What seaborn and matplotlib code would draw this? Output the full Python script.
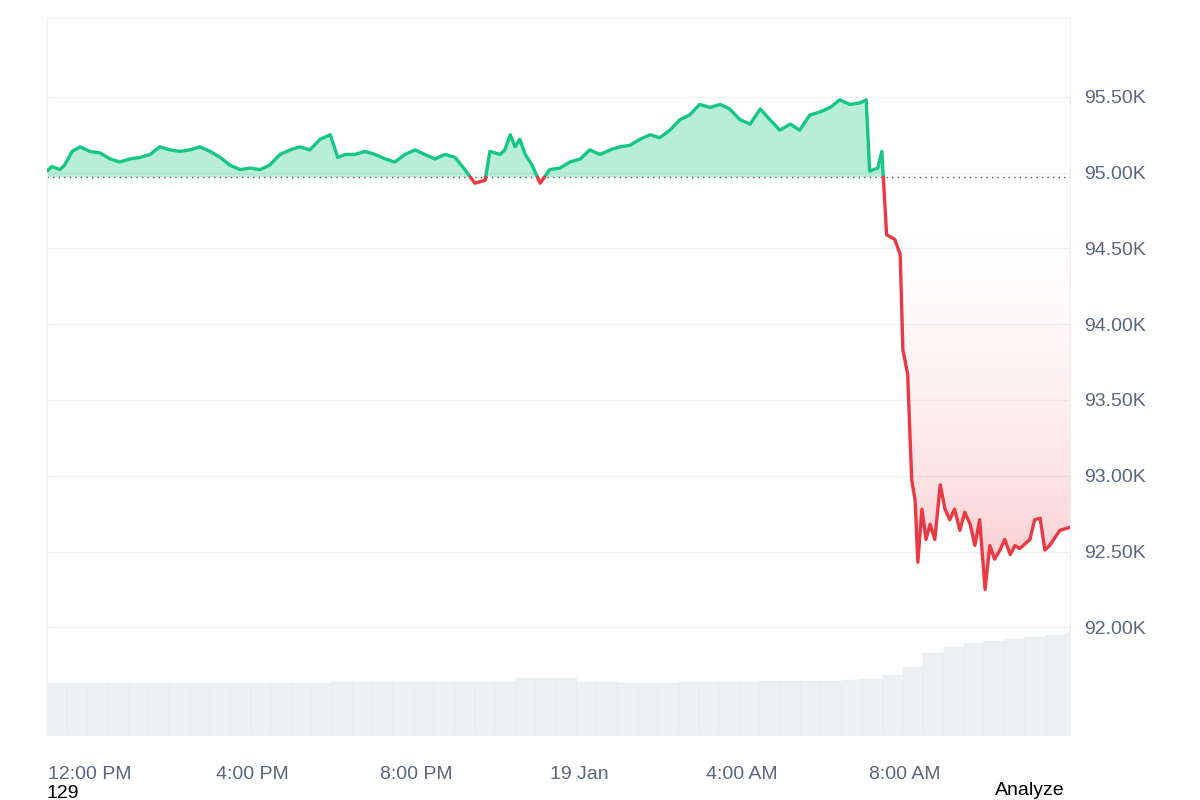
import numpy as np
import pandas as pd
import matplotlib
matplotlib.use("Agg")
import matplotlib.pyplot as plt
from matplotlib.path import Path
import seaborn as sns

# minutes since 10:57 AM, 18 Jan
minutes = [0, 7, 19, 26, 37, 49, 63, 78, 93, 107, 122, 137, 152, 166, 181, 196, 210, 225, 240, 255,
           269, 284, 299, 314, 328, 343, 358, 372, 387, 402, 417, 428, 439, 453, 468, 483, 498, 512, 527, 542,
           556, 571, 586, 601, 615, 630, 645, 652, 667, 674, 682, 689, 696, 704, 714, 726, 740, 755, 770, 785,
           799, 814, 829, 843, 858, 873, 888, 902, 917, 932, 946, 961, 976, 991, 1005, 1020, 1035, 1050, 1064, 1079,
           1094, 1108, 1123, 1138, 1153, 1167, 1182, 1197, 1206, 1211, 1223, 1229, 1236, 1248, 1256, 1260, 1267, 1273, 1278, 1282,
           1288, 1294, 1300, 1307, 1315, 1322, 1329, 1336, 1344, 1351, 1359, 1366, 1373, 1381, 1388, 1395, 1403, 1410, 1418, 1425,
           1432, 1447, 1454, 1462, 1469, 1476, 1491, 1506]
# price in thousands USD
price = [95.01, 95.04, 95.02, 95.05, 95.14, 95.17, 95.14, 95.13, 95.09, 95.07, 95.09, 95.10, 95.12, 95.17, 95.15, 95.14, 95.15, 95.17, 95.14, 95.10,
         95.05, 95.02, 95.03, 95.02, 95.05, 95.12, 95.15, 95.17, 95.15, 95.22, 95.25, 95.10, 95.12, 95.12, 95.14, 95.12, 95.09, 95.07, 95.12, 95.15,
         95.12, 95.09, 95.12, 95.10, 95.02, 94.93, 94.95, 95.14, 95.12, 95.15, 95.25, 95.17, 95.22, 95.12, 95.05, 94.93, 95.02, 95.03, 95.07, 95.09,
         95.15, 95.12, 95.15, 95.17, 95.18, 95.22, 95.25, 95.23, 95.28, 95.35, 95.38, 95.45, 95.43, 95.45, 95.42, 95.35, 95.32, 95.42, 95.35, 95.28,
         95.32, 95.28, 95.38, 95.40, 95.43, 95.48, 95.45, 95.46, 95.48, 95.01, 95.03, 95.14, 94.59, 94.56, 94.46, 93.83, 93.67, 92.97, 92.84, 92.43,
         92.78, 92.58, 92.68, 92.58, 92.94, 92.78, 92.71, 92.78, 92.64, 92.76, 92.68, 92.54, 92.71, 92.25, 92.54, 92.45, 92.51, 92.58, 92.48, 92.54,
         92.52, 92.58, 92.71, 92.72, 92.51, 92.54, 92.64, 92.66]
baseline = 94.97

vol_minutes = list(range(0, 1530, 30))
volume = [52] * 14 + [53] * 9 + [57] * 3 + [53, 53, 52, 52, 52, 53, 53, 53, 53, 54, 54, 54, 54, 55, 56] + \
         [60, 68, 82, 88, 92, 94, 96, 98, 100, 102]

tick_pos = [63, 303, 543, 783, 1023, 1263]
tick_labels = ["12:00 PM", "4:00 PM", "8:00 PM", "19 Jan", "4:00 AM", "8:00 AM"]
y_ticks = [92.0, 92.5, 93.0, 93.5, 94.0, 94.5, 95.0, 95.5]

GREEN = "#16c784"
RED = "#ea3943"
GRAY = "#58667e"

sns.set_style("white")
plt.rcParams["font.family"] = ["Liberation Sans", "DejaVu Sans"]

fig = plt.figure(figsize=(12, 8), dpi=100)
ax = fig.add_axes([47 / 1200, 65 / 800, 1023 / 1200, 717 / 800])
xmax = 1506

# volume on a twin axis
vax = ax.twinx()
vax.set_ylim(0, 717)
vax.bar(vol_minutes, volume, width=30, color="#edf0f3", align="edge",
        edgecolor="#e3e7ec", linewidth=0.3)
vax.set_yticks([])
vax.set_zorder(0)
ax.set_zorder(1)
ax.patch.set_visible(False)

# insert crossing points with baseline for colouring
xs, ys = [minutes[0]], [price[0]]
for i in range(1, len(price)):
    p0, p1 = price[i - 1], price[i]
    if (p0 - baseline) * (p1 - baseline) < 0:
        t0, t1 = minutes[i - 1], minutes[i]
        xs.append(t0 + (baseline - p0) / (p1 - p0) * (t1 - t0))
        ys.append(baseline)
    xs.append(minutes[i])
    ys.append(price[i])
xs = np.array(xs)
ys = np.array(ys)
above = np.where(ys >= baseline, ys, np.nan)
below = np.where(ys <= baseline, ys, np.nan)

ax.fill_between(xs, ys, baseline, where=ys >= baseline, interpolate=True,
                color=GREEN, alpha=0.3, linewidth=0)
poly = ax.fill_between(xs, ys, baseline, where=ys <= baseline, interpolate=True,
                       color="none", linewidth=0)
clip = Path.make_compound_path(*poly.get_paths())
grad = np.linspace(0, 1, 256).reshape(-1, 1)
cmap = matplotlib.colors.LinearSegmentedColormap.from_list(
    "r", [(1, 1, 1, 0), (0.92, 0.22, 0.26, 0.28)])
img = ax.imshow(grad, extent=[0, xmax, 92.2, baseline], aspect="auto",
                cmap=cmap, origin="upper", zorder=1)
img.set_clip_path(clip, transform=ax.transData)
ax.set_xlim(0, xmax)
ax.set_ylim(91.29, 96.02)

df = pd.DataFrame({"t": xs, "up": above, "down": below})
ax.plot(df["t"], df["up"], color=GREEN, linewidth=2.4, zorder=3)
ax.plot(df["t"], df["down"], color=RED, linewidth=2.4, zorder=3)
ax.axhline(baseline, color="#555555", linestyle=(0, (1, 3)), linewidth=1, zorder=2)

ax.set_yticks(y_ticks)
ax.set_yticklabels([f"{v:.2f}K" for v in y_ticks])
ax.yaxis.tick_right()
ax.grid(axis="y", color="#eef0f3", linewidth=1)
ax.set_xticks(tick_pos)
ax.set_xticklabels(tick_labels)
ax.tick_params(axis="x", length=0, labelsize=14, labelcolor=GRAY, pad=22)
ax.tick_params(axis="y", length=0, labelsize=14, labelcolor=GRAY, pad=10)
for s in list(ax.spines.values()) + list(vax.spines.values()):
    s.set_color("#eef0f3")

fig.text(47 / 1200, 2 / 800, "129", fontsize=14, color="black")
fig.text(1065 / 1200, 5 / 800, "Analyze", fontsize=14, color="black", ha="right")

fig.savefig("out.png", dpi=100)
